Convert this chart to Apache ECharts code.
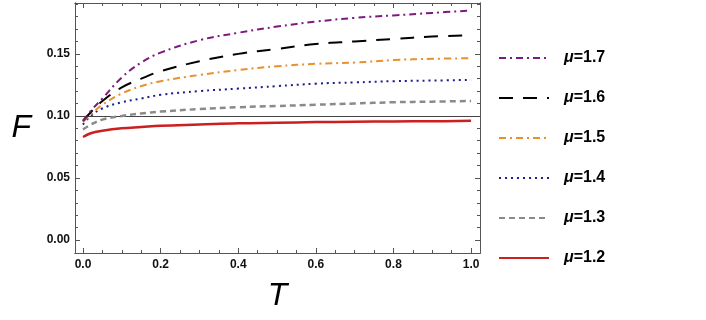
<!DOCTYPE html>
<html>
<head>
<meta charset="utf-8">
<script src="https://cdn.jsdelivr.net/npm/echarts@6/dist/echarts.min.js"></script>
<style>
  html, body { margin: 0; padding: 0; background: #fff; }
  #main { width: 706px; height: 320px; }
</style>
</head>
<body>
<div id="main"></div>
<script>
const tVals = [0, 0.02, 0.05, 0.1, 0.15, 0.2, 0.3, 0.4, 0.5, 0.6, 0.7, 0.8, 0.9, 1.0];

// F values per mu
const f17 = [0.096, 0.104, 0.114, 0.131, 0.143, 0.151, 0.161, 0.167, 0.172, 0.176, 0.179, 0.181, 0.183, 0.185];
const f16 = [0.096, 0.103, 0.112, 0.123, 0.130, 0.136, 0.144, 0.150, 0.154, 0.158, 0.160, 0.162, 0.164, 0.165];
const f15 = [0.095, 0.101, 0.109, 0.118, 0.124, 0.128, 0.133, 0.137, 0.140, 0.142, 0.143, 0.145, 0.146, 0.1465];
const f14 = [0.093, 0.100, 0.106, 0.111, 0.114, 0.117, 0.120, 0.122, 0.124, 0.126, 0.127, 0.128, 0.1285, 0.129];
const f13 = [0.089, 0.093, 0.097, 0.100, 0.102, 0.1035, 0.1055, 0.107, 0.108, 0.109, 0.110, 0.111, 0.1115, 0.112];
const f12 = [0.083, 0.086, 0.088, 0.090, 0.091, 0.092, 0.093, 0.094, 0.0945, 0.095, 0.0953, 0.0955, 0.0957, 0.096];

const refLine = 0.0968;

const xMajor = [0, 0.2, 0.4, 0.6, 0.8, 1.0];
const xMinor = [0, 0.05, 0.1, 0.15, 0.2, 0.25, 0.3, 0.35, 0.4, 0.45, 0.5, 0.55, 0.6, 0.65, 0.7, 0.75, 0.8, 0.85, 0.9, 0.95, 1.0];
const yMajor = [0, 0.05, 0.1, 0.15];
const yMinor = [0, 0.01, 0.02, 0.03, 0.04, 0.05, 0.06, 0.07, 0.08, 0.09, 0.1, 0.11, 0.12, 0.13, 0.14, 0.15, 0.16, 0.17, 0.18, 0.19];

const names = ['μ=1.7', 'μ=1.6', 'μ=1.5', 'μ=1.4', 'μ=1.3', 'μ=1.2'];
const fData = [f17, f16, f15, f14, f13, f12];
const colors = ['#7d1a80', '#000000', '#e8902c', '#1c1c8c', '#8a8a8a', '#cc1f1f'];
const dashes = [[7, 4, 2, 4], [14, 10], [7, 4, 2, 4], [2, 4], [6, 4], 'solid'];
const widths = [2, 2, 2, 2, 2.5, 2.5];

const X_MIN = -0.0206, X_MAX = 1.023;
const Y_MIN = -0.0105, Y_MAX = 0.191;
const axisColor = '#555';

const chart = echarts.init(document.getElementById('main'));

function xAxisDef(pos, ticks, len, withLabel, name) {
	return {
		type: 'value', position: pos, min: X_MIN, max: X_MAX,
		name: name || '', nameLocation: 'middle', nameGap: 27,
		nameTextStyle: { fontFamily: 'Liberation Sans', fontStyle: 'italic', fontSize: 32, color: '#000' },
		axisLine: { show: true, onZero: false, lineStyle: { color: axisColor, width: 1 } },
		axisTick: { show: true, inside: true, length: len, customValues: ticks, lineStyle: { color: axisColor } },
		axisLabel: {
			show: withLabel, customValues: ticks, margin: 6,
			fontFamily: 'Liberation Sans', fontWeight: 'bold', fontSize: 12, color: '#111',
			formatter: v => v.toFixed(1)
		},
		splitLine: { show: false }
	};
}

function yAxisDef(pos, ticks, len, withLabel, name) {
	return {
		type: 'value', position: pos, min: Y_MIN, max: Y_MAX,
		name: name || '', nameLocation: 'middle', nameGap: 44, nameRotate: 0,
		nameTextStyle: { fontFamily: 'Liberation Sans', fontStyle: 'italic', fontSize: 32, color: '#000' },
		axisLine: { show: true, onZero: false, lineStyle: { color: axisColor, width: 1 } },
		axisTick: { show: true, inside: true, length: len, customValues: ticks, lineStyle: { color: axisColor } },
		axisLabel: {
			show: withLabel, customValues: ticks, margin: 5,
			fontFamily: 'Liberation Sans', fontWeight: 'bold', fontSize: 12, color: '#111',
			formatter: v => v.toFixed(2)
		},
		splitLine: { show: false }
	};
}

const series = names.map((n, i) => ({
	name: n,
	type: 'line',
	smooth: 0.4,
	symbol: 'none',
	xAxisIndex: 0,
	yAxisIndex: 0,
	data: tVals.map((t, k) => [t, fData[i][k]]),
	lineStyle: { color: colors[i], width: widths[i], type: dashes[i] },
	itemStyle: { color: colors[i] },
	z: 10 - i
}));

// thin horizontal reference line
series.push({
	type: 'line',
	data: [],
	markLine: {
		silent: true, symbol: 'none', label: { show: false },
		lineStyle: { color: '#444', width: 1, type: 'solid' },
		data: [{ yAxis: refLine }]
	}
});

const option = {
	animation: false,
	backgroundColor: '#fff',
	grid: { left: 75, right: 226, top: 3, bottom: 67 },
	xAxis: [
		xAxisDef('bottom', xMajor, 5, true, 'T'),
		xAxisDef('bottom', xMinor, 3, false),
		xAxisDef('top', xMajor, 5, false),
		xAxisDef('top', xMinor, 3, false)
	],
	yAxis: [
		yAxisDef('left', yMajor, 5, true, 'F'),
		yAxisDef('left', yMinor, 3, false),
		yAxisDef('right', yMajor, 5, false),
		yAxisDef('right', yMinor, 3, false)
	],
	legend: {
		data: names,
		orient: 'vertical',
		left: 493,
		top: 45,
		itemWidth: 50,
		itemHeight: 14,
		itemGap: 24,
		itemStyle: { opacity: 0 },
		formatter: name => '{i|μ}{b|' + name.slice(1) + '}',
		textStyle: {
			padding: [0, 0, 0, 10],
			rich: {
				i: { fontFamily: 'Liberation Sans', fontStyle: 'italic', fontWeight: 'bold', fontSize: 16, color: '#000' },
				b: { fontFamily: 'Liberation Sans', fontWeight: 'bold', fontSize: 16, color: '#000' }
			}
		}
	},
	series: series
};

chart.setOption(option);
</script>
</body>
</html>
